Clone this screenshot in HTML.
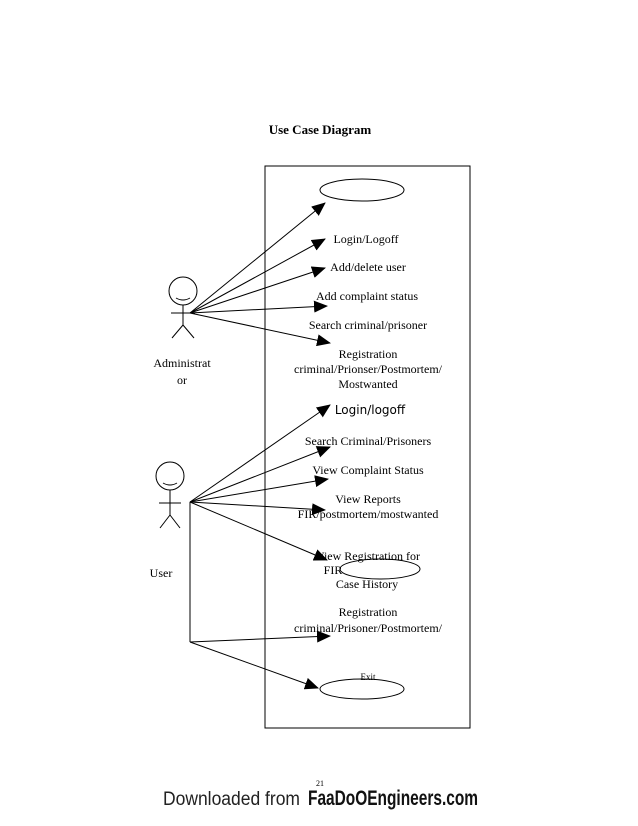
<!DOCTYPE html>
<html><head><style>body{margin:0;background:#fff}svg{display:block}</style></head>
<body>
<svg width="638" height="826" viewBox="0 0 638 826" xmlns="http://www.w3.org/2000/svg">
<defs><marker id="a" markerWidth="14" markerHeight="12" refX="13" refY="6" orient="auto" markerUnits="userSpaceOnUse"><path d="M0,0 L14,6 L0,12 z" fill="#000"/></marker></defs>
<g font-family="Liberation Serif, serif" font-size="12" fill="#000" text-anchor="middle">
<text x="320" y="134" font-size="13" font-weight="bold">Use Case Diagram</text>
<rect x="265" y="166" width="205" height="562" fill="none" stroke="#000" stroke-width="1"/>
<ellipse cx="362" cy="190" rx="42" ry="11" fill="none" stroke="#000"/>
<g stroke="#000" fill="none" stroke-width="1">
<circle cx="183" cy="291" r="14"/>
<path d="M176,298 q7,4 14,0"/>
<line x1="183" y1="305" x2="183" y2="325"/>
<line x1="171" y1="313" x2="195" y2="313"/>
<line x1="183" y1="325" x2="172" y2="338"/><line x1="183" y1="325" x2="194" y2="338"/>
<circle cx="170" cy="476" r="14"/>
<path d="M163,483 q7,4 14,0"/>
<line x1="170" y1="490" x2="170" y2="515"/>
<line x1="159" y1="503" x2="181" y2="503"/>
<line x1="170" y1="515" x2="160" y2="528"/><line x1="170" y1="515" x2="180" y2="528"/>
<g marker-end="url(#a)">
<line x1="190" y1="313" x2="325" y2="203"/>
<line x1="190" y1="313" x2="325" y2="239"/>
<line x1="190" y1="313" x2="325" y2="268"/>
<line x1="190" y1="313" x2="327" y2="306"/>
<line x1="190" y1="313" x2="330" y2="343"/>
<line x1="190" y1="502" x2="330" y2="405"/>
<line x1="190" y1="502" x2="330" y2="447"/>
<line x1="190" y1="502" x2="328" y2="479"/>
<line x1="190" y1="502" x2="325" y2="510"/>
<line x1="190" y1="502" x2="327" y2="560"/>
<line x1="190" y1="642" x2="330" y2="636"/>
<line x1="190" y1="642" x2="318" y2="688"/>
</g>
<line x1="190" y1="502" x2="190" y2="642"/>
<ellipse cx="380" cy="569" rx="40" ry="10"/>
<ellipse cx="362" cy="689" rx="42" ry="10"/>
</g>
<text x="366" y="243">Login/Logoff</text>
<text x="368" y="271">Add/delete user</text>
<text x="367" y="300">Add complaint status</text>
<text x="368" y="329">Search criminal/prisoner</text>
<text x="368" y="358">Registration</text>
<text x="368" y="373">criminal/Prionser/Postmortem/</text>
<text x="368" y="388">Mostwanted</text>
<text x="370" y="414" font-family="DejaVu Sans, sans-serif" font-size="12">Login/logoff</text>
<text x="368" y="445">Search Criminal/Prisoners</text>
<text x="368" y="474">View Complaint Status</text>
<text x="368" y="503">View Reports</text>
<text x="368" y="518">FIR/postmortem/mostwanted</text>
<text x="368" y="560">View Registration for</text>
<text x="333" y="574">FIR</text>
<text x="367" y="588">Case History</text>
<text x="368" y="616">Registration</text>
<text x="368" y="632">criminal/Prisoner/Postmortem/</text>
<text x="368" y="680" font-size="9">Exit</text>
<text x="182" y="367">Administrat</text>
<text x="182" y="384">or</text>
<text x="161" y="577">User</text>
<text x="320" y="786" font-size="8">21</text>
</g>
<text x="163" y="805" font-family="Liberation Sans, sans-serif" font-size="19" fill="#222" textLength="137" lengthAdjust="spacingAndGlyphs">Downloaded from</text>
<text x="308" y="805" font-family="Liberation Sans, sans-serif" font-size="21" font-weight="bold" fill="#111" textLength="170" lengthAdjust="spacingAndGlyphs">FaaDoOEngineers.com</text>
</svg>
</body></html>
